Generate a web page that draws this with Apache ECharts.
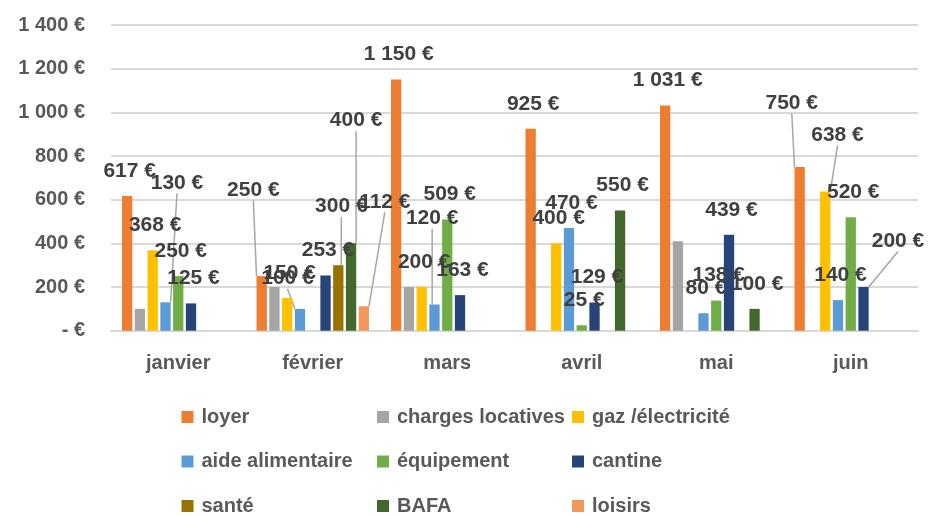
<!DOCTYPE html>
<html>
<head>
<meta charset="utf-8">
<script src="https://cdn.jsdelivr.net/npm/echarts@6/dist/echarts.min.js"></script>
<style>
    html, body { margin: 0; padding: 0; background: #fff; }
    #chart { width: 928px; height: 516px; }
</style>
</head>
<body>
<div id="chart"></div>
<script>
var mois = ['janvier', 'février', 'mars', 'avril', 'mai', 'juin'];

var loyer = [617, 250, 1150, 925, 1031, 750];
var chargesLocatives = [100, 200, 200, null, 410, null];
var gazElectricite = [368, 150, 200, 400, null, 638];
var aideAlimentaire = [130, 100, 120, 470, 80, 140];
var equipement = [250, null, 509, 25, 138, 520];
var cantine = [125, 253, 163, 129, 439, 200];
var sante = [null, 300, null, null, null, null];
var bafa = [null, 400, null, 550, 100, null];
var loisirs = [null, 112, null, null, null, null];

var yMax = 1400;
var yStep = 200;

var noms = ['loyer', 'charges locatives', 'gaz /électricité', 'aide alimentaire',
    'équipement', 'cantine', 'santé', 'BAFA', 'loisirs'];
var valeurs = [loyer, chargesLocatives, gazElectricite, aideAlimentaire,
    equipement, cantine, sante, bafa, loisirs];
var couleurs = ['#ED7D31', '#A5A5A5', '#FFC000', '#5B9BD5', '#70AD47',
    '#264478', '#997300', '#43682B', '#F1975A'];

// labels deplaces a la main (decalage par rapport au haut de la barre) -> avec trait de rappel
var decalageDefaut = [2.5, -25];
var decalages = {
    'loyer': { 1: [-8.3, -86], 5: [-7.9, -64.2] },
    'gaz /électricité': { 5: [12.3, -56.4] },
    'aide alimentaire': { 0: [11.5, -119.6], 1: [-12.5, -30.6], 2: [-2.3, -86.2] },
    'cantine': { 5: [34.5, -46] },
    'santé': { 1: [3, -58.5] },
    'BAFA': { 1: [5, -122.7] },
    'loisirs': { 1: [21, -104.5] }
};

function euro(v) {
    if (v === 0) return '- €';
    return String(v).replace(/\B(?=(\d{3})+(?!\d))/g, ' ') + ' €';
}

var police = "'Liberation Sans', Arial, sans-serif";

var series = [];
for (var s = 0; s < noms.length; s++) {
    var nom = noms[s];
    var d = valeurs[s].map(function (v, i) {
        if (decalages[nom] && decalages[nom][i]) {
            return { value: v, labelLine: { show: true } };
        }
        return v;
    });
    series.push({
        name: nom,
        type: 'bar',
        barWidth: 10.3,
        barGap: '24%',
        itemStyle: { color: couleurs[s] },
        label: {
            show: nom !== 'charges locatives',
            position: 'top',
            formatter: function (p) { return euro(p.value); },
            fontFamily: police,
            fontWeight: 'bold',
            fontSize: 21,
            color: '#404040'
        },
        labelLine: {
            show: false,
            length2: 0,
            lineStyle: { color: '#A6A6A6', width: 1.5 }
        },
        labelLayout: function (params) {
            var n = noms[params.seriesIndex];
            var off = (decalages[n] && decalages[n][params.dataIndex]) || decalageDefaut;
            var r = params.rect;
            return {
                x: r.x + r.width / 2 + off[0],
                y: r.y + off[1],
                align: 'center',
                verticalAlign: 'middle'
            };
        },
        data: d
    });
}

// legende sur 3 colonnes x 3 lignes (ordre des series, ligne par ligne)
var colonnesLegende = [181.5, 377, 572];
var lignesLegende = [407, 451.5, 496];
var legendes = noms.map(function (n, k) {
    return {
        data: [n],
        left: colonnesLegende[k % 3],
        top: lignesLegende[Math.floor(k / 3)],
        padding: 0,
        itemWidth: 12,
        itemHeight: 12,
        icon: 'rect',
        selectedMode: false,
        textStyle: {
            fontFamily: police,
            fontWeight: 'bold',
            fontSize: 20,
            lineHeight: 20,
            color: '#595959',
            padding: [0, 0, 0, 3]
        }
    };
});

var chart = echarts.init(document.getElementById('chart'));
chart.setOption({
    animation: false,
    backgroundColor: '#ffffff',
    grid: {
        left: 111,
        right: 10,
        top: 25,
        bottom: 185.3,
        containLabel: false,
        outerBoundsMode: 'none'
    },
    legend: legendes,
    xAxis: {
        type: 'category',
        data: mois,
        axisTick: { show: false },
        axisLine: { lineStyle: { color: '#D9D9D9', width: 2 } },
        axisLabel: {
            margin: 23,
            fontFamily: police,
            fontWeight: 'bold',
            fontSize: 20,
            color: '#595959'
        }
    },
    yAxis: {
        type: 'value',
        min: 0,
        max: yMax,
        interval: yStep,
        axisLine: { show: false },
        axisTick: { show: false },
        splitLine: { lineStyle: { color: '#D9D9D9', width: 2 } },
        axisLabel: {
            margin: 26,
            formatter: euro,
            fontFamily: police,
            fontWeight: 'bold',
            fontSize: 20,
            color: '#595959'
        }
    },
    series: series
});
</script>
</body>
</html>
